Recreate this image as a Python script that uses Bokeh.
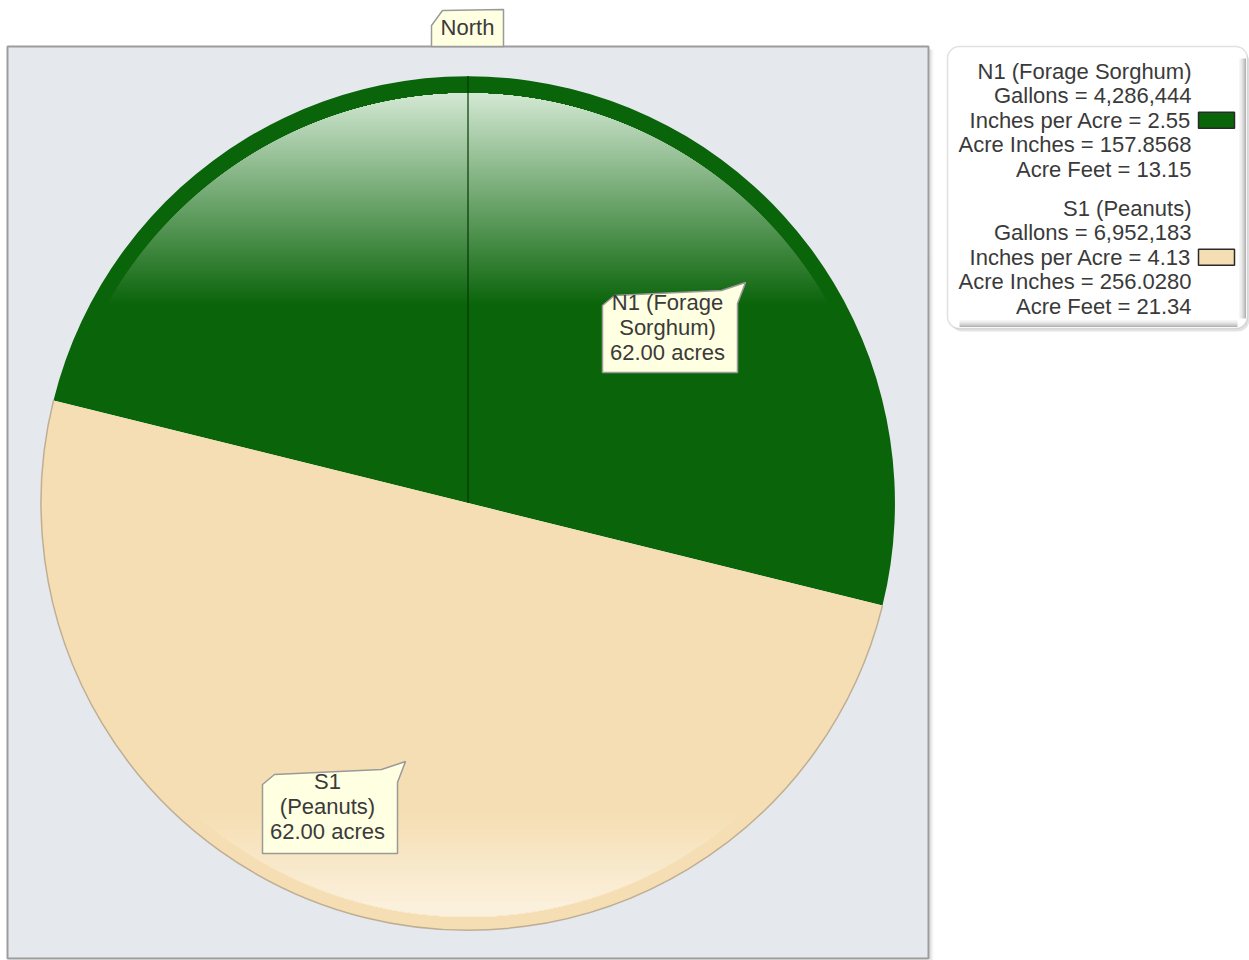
import math
from bokeh.plotting import figure
from bokeh.models import Range1d, BoxAnnotation
from bokeh.core.properties import value
from bokeh.embed import file_html
from bokeh.resources import INLINE

# ---------------- data ----------------
fields = ["N1 (Forage Sorghum)", "S1 (Peanuts)"]
label_lines = [["N1 (Forage", "Sorghum)"], ["S1", "(Peanuts)"]]
acres = [62.00, 62.00]
gallons = [4286444, 6952183]
inches_per_acre = [2.55, 4.13]
acre_inches = [157.8568, 256.0280]
acre_feet = [13.15, 21.34]
field_colors = ["#0a640a", "#f5deb3"]
compass_label = "North"

# ---------------- layout (screen pixels, y measured downward) ----------------
W, H = 1249, 960
CX, CY, R = 467.5, 502.5, 427.0
ROTATION_DEG = -13.9          # angle of the dividing line (field boundary)
FONT = value("Liberation Sans")
FS = value("22px")
TXT = "#3a3a3a"


def Y(sy):
    return -sy


def hex2rgb(h):
    h = h.lstrip("#")
    return tuple(int(h[i:i + 2], 16) for i in (0, 2, 4))


def mix(c0, c1, t):
    a, b = hex2rgb(c0), hex2rgb(c1)
    t = max(0.0, min(1.0, t))
    return "#%02x%02x%02x" % tuple(int(round(a[i] + (b[i] - a[i]) * t)) for i in range(3))


p = figure(width=W, height=H, output_backend="svg", toolbar_location=None,
           x_range=Range1d(0, W), y_range=Range1d(-H, 0),
           min_border=0, background_fill_color="white", border_fill_color="white")
p.axis.visible = False
p.grid.visible = False
p.outline_line_color = None

# ---------------- chart panel ----------------
for i, a in enumerate([0.30, 0.18, 0.10, 0.05, 0.02]):
    p.segment(x0=[929.5 + i], y0=[Y(49)], x1=[929.5 + i], y1=[Y(962)],
              line_color="#7a7a7a", line_alpha=a, line_width=1)
p.quad(left=[7], right=[928], top=[Y(46)], bottom=[Y(958)],
       fill_color="#e5e9ed", line_color="#9c9c9c", line_width=2)

# ---------------- field wedges from acreage ----------------
total = sum(acres)
starts, ends = [], []
ang = math.radians(ROTATION_DEG)
for a in acres:
    starts.append(ang)
    ang += 2 * math.pi * a / total
    ends.append(ang)

p.wedge(x=[CX] * len(acres), y=[Y(CY)] * len(acres), radius=R,
        start_angle=starts, end_angle=ends, fill_color=field_colors,
        line_color=None)

# shading of the green field (lighter towards north)
r_in_g, cy_g = 414.0, CY + 4.0
g_top, g_bot = cy_g - r_in_g, 304.0
ys, ls, rs, cs = [], [], [], []
sy = g_top
while sy <= g_bot:
    dy = sy + 0.5 - cy_g
    if abs(dy) < r_in_g:
        half = math.sqrt(r_in_g ** 2 - dy ** 2)
        ys.append(Y(sy + 0.5))
        ls.append(CX - half)
        rs.append(CX + half)
        t = (sy - g_top) / (g_bot - g_top)
        cs.append(mix("#d3e8d3", field_colors[0], t))
    sy += 1
p.hbar(y=ys, left=ls, right=rs, height=1.1, fill_color=cs, line_color=None)

# shading of the tan field (lighter towards south)
r_in_t = 414.0
t_top, t_bot = 812.0, CY + r_in_t
ys, ls, rs, cs = [], [], [], []
sy = t_top
while sy <= t_bot:
    dy = sy + 0.5 - CY
    if abs(dy) < r_in_t:
        half = math.sqrt(r_in_t ** 2 - dy ** 2)
        ys.append(Y(sy + 0.5))
        ls.append(CX - half)
        rs.append(CX + half)
        cs.append(mix(field_colors[1], "#fdf6ea", (sy - t_top) / (906 - t_top)))
    sy += 1
p.hbar(y=ys, left=ls, right=rs, height=1.1, fill_color=cs, line_color=None)

# thin edge on tan field
p.arc(x=[CX], y=[Y(CY)], radius=R, start_angle=[starts[1]], end_angle=[ends[1]],
      line_color="#a08a6a", line_alpha=0.6, line_width=1.5)

# north line
p.segment(x0=[CX], y0=[Y(CY)], x1=[CX], y1=[Y(CY - R)], line_color="#063806", line_width=1.2)

# ---------------- callouts ----------------
def callout(left, top, right, bottom):
    xs = [left, left + 12, right - 16, right + 8, right, right, left]
    yy = [top + 16, top + 6, top + 1, top - 7, top + 14, bottom, bottom]
    return xs, [Y(v) for v in yy]

boxes = [(602, 289, 737, 372), (262, 768, 397, 853)]
cxs, cys = [], []
for b in boxes:
    xs, yy = callout(*b)
    cxs.append(xs)
    cys.append(yy)
# north tag
cxs.append([431, 431, 442, 503, 503])
cys.append([Y(46), Y(25), Y(10), Y(9), Y(46)])
p.patches(xs=cxs, ys=cys, fill_color="#ffffe1", line_color="#9a9a9a", line_width=1.5)

tx, ty, tt = [], [], []
for i, b in enumerate(boxes):
    lines = label_lines[i] + [f"{acres[i]:.2f} acres"]
    xc = (b[0] + b[2]) / 2 - 2.5
    for j, ln in enumerate(lines):
        tx.append(xc)
        ty.append(Y(b[1] + 12.5 + 25 * j))
        tt.append(ln)
tx.append(467)
ty.append(Y(27))
tt.append(compass_label)
p.text(x=tx, y=ty, text=tt, text_align="center", text_baseline="middle",
       text_font=FONT, text_font_size=FS, text_color=TXT)

# ---------------- legend ----------------
LG_L, LG_R, LG_T, LG_B = 947, 1247, 46, 328
p.add_layout(BoxAnnotation(left=LG_L + 3, right=LG_R + 2, top=Y(LG_T + 4), bottom=Y(LG_B + 3),
                           fill_color="#909090", fill_alpha=0.25, line_color=None,
                           border_radius=12, level="underlay"))
p.add_layout(BoxAnnotation(left=LG_L, right=LG_R, top=Y(LG_T), bottom=Y(LG_B),
                           fill_color="white", fill_alpha=1.0, line_color="#9a9a9a",
                           line_width=1.5, border_radius=12, level="underlay"))
shade = ["#f6f6f6", "#f0f0f0", "#e8e8e8", "#dedede", "#d2d2d2", "#c4c4c4", "#b4b4b4"]
for i, c in enumerate(shade):
    p.segment(x0=[LG_R - 8 + i], y0=[Y(LG_T + 12)], x1=[LG_R - 8 + i], y1=[Y(LG_B - 10)],
              line_color=c, line_width=1)
    p.segment(x0=[LG_L + 12], y0=[Y(LG_B - 8 + i)], x1=[LG_R - 10], y1=[Y(LG_B - 8 + i)],
              line_color=c, line_width=1)

lx, ly, lt = [], [], []
sw_y = []
for i, name in enumerate(fields):
    lines = [name,
             f"Gallons = {gallons[i]:,}",
             f"Inches per Acre = {inches_per_acre[i]:.2f}",
             f"Acre Inches = {acre_inches[i]:.4f}",
             f"Acre Feet = {acre_feet[i]:.2f}"]
    base = 71 + 137 * i
    for j, ln in enumerate(lines):
        lx.append(1191)
        ly.append(Y(base + 24.4 * j))
        lt.append(ln)
    sw_y.append(base + 24.4 * 2)
p.text(x=lx, y=ly, text=lt, text_align="right", text_baseline="middle",
       text_font=FONT, text_font_size=FS, text_color=TXT)
p.quad(left=[1198] * len(fields), right=[1234] * len(fields),
       top=[Y(v - 8) for v in sw_y], bottom=[Y(v + 8) for v in sw_y],
       fill_color=field_colors, line_color="#2a2a2a", line_width=1.5)

open("out.html", "w").write(file_html(p, INLINE))
